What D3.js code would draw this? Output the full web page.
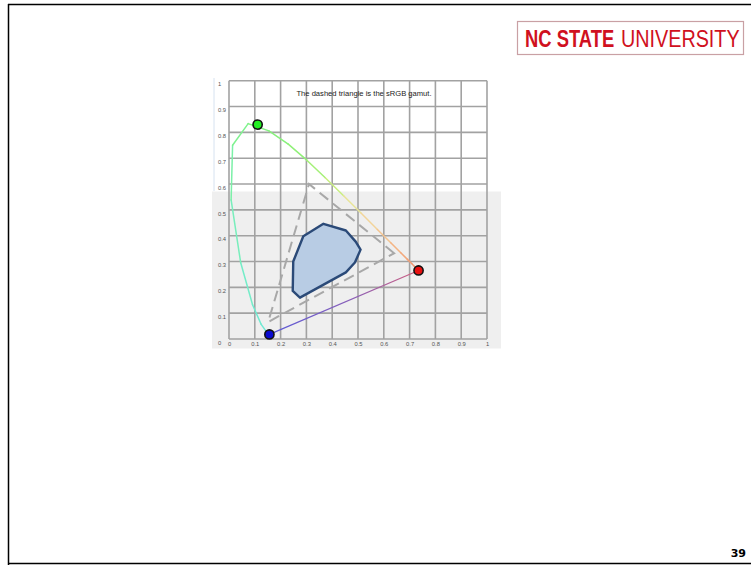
<!DOCTYPE html>
<html>
<head>
  <style>
    body { margin: 0; background: #fff; }
    svg { display: block; font-family: "Liberation Sans", Arial, sans-serif; }
  </style>
</head>
<body>
  <svg id="slide" width="751" height="565"></svg>
  <script src="https://d3js.org/d3.v7.min.js"></script>
  <script>
    // spectral locus, 450nm .. 700nm (CIE 1931 xy)
    const locusX = [0.1566, 0.1440, 0.1241, 0.0913, 0.0454, 0.0082, 0.0139, 0.0743, 0.1547, 0.2296, 0.3016, 0.3731, 0.4441, 0.5125, 0.5752, 0.6270, 0.6658, 0.6915, 0.7079, 0.7190, 0.7260, 0.7300, 0.7334, 0.7347];
    const locusY = [0.0177, 0.0297, 0.0578, 0.1327, 0.2950, 0.5384, 0.7502, 0.8338, 0.8059, 0.7543, 0.6923, 0.6245, 0.5547, 0.4866, 0.4242, 0.3725, 0.3340, 0.3083, 0.2920, 0.2809, 0.2740, 0.2700, 0.2666, 0.2653];
    const locusColor = ["#70e4d8", "#70e8d4", "#70ead0", "#74ecc8", "#78eebc", "#7cf0a8", "#80f290", "#84f284", "#88f07c", "#90f078", "#a4f078", "#c8ee80", "#e8e498", "#f2d49a", "#f4c490", "#f4b484", "#f2a87c", "#f0a078", "#ee9874", "#ee9470", "#ec906e", "#ec8c6c", "#ea886a", "#ea8468"];

    // primaries shown as dots
    const primaryNames = ["green", "blue", "red"];
    const primaryX = [0.111, 0.1566, 0.7347];
    const primaryY = [0.830, 0.0177, 0.2653];
    const primaryFill = ["#22ee22", "#0a0ad0", "#e81010"];

    // sRGB triangle
    const srgbX = [0.640, 0.310, 0.152];
    const srgbY = [0.332, 0.600, 0.066];

    // device gamut polygon
    const gamutX = [0.366, 0.453, 0.491, 0.510, 0.488, 0.453, 0.275, 0.247, 0.249, 0.288];
    const gamutY = [0.446, 0.420, 0.377, 0.346, 0.296, 0.258, 0.160, 0.186, 0.300, 0.398];

    const tickValues = [0, 0.1, 0.2, 0.3, 0.4, 0.5, 0.6, 0.7, 0.8, 0.9, 1];
    const tickLabels = ["0", "0.1", "0.2", "0.3", "0.4", "0.5", "0.6", "0.7", "0.8", "0.9", "1"];

    const svg = d3.select("#slide");

    // slide frame
    svg.append("line").attr("x1", 8).attr("x2", 751).attr("y1", 4.5).attr("y2", 4.5)
      .attr("stroke", "#000").attr("stroke-width", 1.5);
    svg.append("line").attr("x1", 8.5).attr("x2", 8.5).attr("y1", 4).attr("y2", 565)
      .attr("stroke", "#000").attr("stroke-width", 1.5);
    svg.append("line").attr("x1", 8).attr("x2", 751).attr("y1", 563.5).attr("y2", 563.5)
      .attr("stroke", "#000").attr("stroke-width", 1.5);

    // logo (condensed look by squeezing horizontally)
    svg.append("rect").attr("x", 517.5).attr("y", 21.5).attr("width", 226).attr("height", 33)
      .attr("fill", "#fff").attr("stroke", "#c9a0a4").attr("stroke-width", 1.2);
    svg.append("text").attr("transform", "translate(525,47) scale(0.8,1)")
      .attr("fill", "#d01020").attr("font-weight", "bold")
      .style("font-size", "23px").text("NC STATE");
    svg.append("text").attr("transform", "translate(621,47) scale(0.86,1)")
      .attr("fill", "#d01020")
      .style("font-size", "23px").text("UNIVERSITY");

    // page number
    svg.append("text").attr("x", 746).attr("y", 557).attr("text-anchor", "end")
      .attr("font-weight", "bold").style("font-size", "11px").style("font-family", "'DejaVu Sans', sans-serif")
      .text("39");

    // chart
    const x = d3.scaleLinear().domain([0, 1]).range([229, 487]);
    const y = d3.scaleLinear().domain([0, 1]).range([339, 80.7]);

    svg.append("rect").attr("x", 212).attr("y", 191.5).attr("width", 289).attr("height", 157)
      .attr("fill", "#efefef");
    svg.append("line").attr("x1", 214).attr("x2", 214).attr("y1", 78).attr("y2", 191)
      .attr("stroke", "#d6e2f0").attr("stroke-width", 1);

    const grid = svg.append("g").attr("stroke", "#a2a2a2").attr("stroke-width", 1.6);
    grid.selectAll("line.v").data(tickValues).join("line").attr("class", "v")
      .attr("x1", d => x(d)).attr("x2", d => x(d)).attr("y1", y(1)).attr("y2", y(0));
    grid.selectAll("line.h").data(tickValues).join("line").attr("class", "h")
      .attr("x1", x(0)).attr("x2", x(1)).attr("y1", d => y(d)).attr("y2", d => y(d));

    const xAxis = svg.append("g").attr("transform", "translate(0," + (y(0) + 1) + ")")
      .call(d3.axisBottom(x).tickValues(tickValues).tickSize(0).tickFormat((d, i) => tickLabels[i]));
    const yAxis = svg.append("g").attr("transform", "translate(" + (x(0) - 11) + ",0)")
      .call(d3.axisLeft(y).tickValues(tickValues).tickSize(0).tickFormat((d, i) => tickLabels[i]));
    [xAxis, yAxis].forEach(a => {
      a.select(".domain").remove();
      a.selectAll("text").attr("fill", "#555").style("font-size", "5.8px")
        .style("font-family", "'Liberation Sans', sans-serif");
    });
    xAxis.selectAll("text").attr("dy", "0.6em");
    yAxis.selectAll("text").attr("text-anchor", "start").attr("x", 0).attr("dy", "0.9em");

    svg.append("text").attr("x", 364).attr("y", 96).attr("text-anchor", "middle")
      .attr("fill", "#222").style("font-size", "7.6px").text("The dashed triangle is the sRGB gamut.");

    // spectral locus segments
    const segs = d3.range(locusX.length - 1);
    svg.append("g").selectAll("line").data(segs).join("line")
      .attr("x1", i => x(locusX[i])).attr("y1", i => y(locusY[i]))
      .attr("x2", i => x(locusX[i + 1])).attr("y2", i => y(locusY[i + 1]))
      .attr("stroke", i => locusColor[i]).attr("stroke-width", 1.5).attr("stroke-linecap", "round");

    // purple line
    const defs = svg.append("defs");
    const grad = defs.append("linearGradient").attr("id", "purp").attr("gradientUnits", "userSpaceOnUse")
      .attr("x1", x(primaryX[1])).attr("y1", y(primaryY[1])).attr("x2", x(primaryX[2])).attr("y2", y(primaryY[2]));
    grad.append("stop").attr("offset", "0%").attr("stop-color", "#5a5ad8");
    grad.append("stop").attr("offset", "55%").attr("stop-color", "#8a60b8");
    grad.append("stop").attr("offset", "100%").attr("stop-color", "#d06080");
    svg.append("line").attr("x1", x(primaryX[1])).attr("y1", y(primaryY[1]))
      .attr("x2", x(primaryX[2])).attr("y2", y(primaryY[2]))
      .attr("stroke", "url(#purp)").attr("stroke-width", 1.3);

    // sRGB dashed triangle
    const line = d3.line().x(d => x(d[0])).y(d => y(d[1])).curve(d3.curveLinearClosed);
    svg.append("path").datum(d3.zip(srgbX, srgbY)).attr("d", line)
      .attr("fill", "none").attr("stroke", "#a8a8a8").attr("stroke-width", 2)
      .attr("stroke-dasharray", "11,6");

    // gamut polygon
    svg.append("path").datum(d3.zip(gamutX, gamutY)).attr("d", line)
      .attr("fill", "#b8cce4").attr("stroke", "#2b4a78").attr("stroke-width", 2.4)
      .attr("stroke-linejoin", "round");

    // primaries
    svg.append("g").selectAll("circle").data(primaryNames).join("circle")
      .attr("cx", (d, i) => x(primaryX[i])).attr("cy", (d, i) => y(primaryY[i]))
      .attr("r", 4.6).attr("fill", (d, i) => primaryFill[i])
      .attr("stroke", "#111").attr("stroke-width", 1.6);
  </script>
</body>
</html>
